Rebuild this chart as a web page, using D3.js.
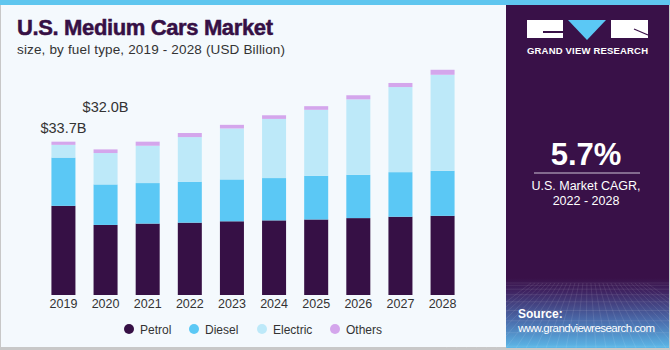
<!DOCTYPE html>
<html>
<head>
<meta charset="utf-8">
<script src="https://cdn.jsdelivr.net/npm/d3@7"></script>
<style>
  body { margin: 0; background: #fff; }
  svg { display: block; }
</style>
</head>
<body>
<div id="chart"></div>
<script>
// data (USD Billion)
var years = ["2019", "2020", "2021", "2022", "2023", "2024", "2025", "2026", "2027", "2028"];
var petrol   = [19.6, 15.4, 15.7, 15.9, 16.2, 16.4, 16.6, 16.9, 17.2, 17.4];
var diesel   = [10.6, 8.9, 8.9, 9.0, 9.2, 9.3, 9.6, 9.5, 9.8, 9.9];
var electric = [2.8, 6.9, 8.2, 9.8, 11.2, 13.0, 14.5, 16.6, 18.7, 21.1];
var others   = [0.7, 0.8, 0.9, 0.9, 0.8, 0.8, 0.8, 0.9, 0.9, 1.1];
var seriesNames = ["Petrol", "Diesel", "Electric", "Others"];
var colors = ["#361045", "#5bc8f5", "#bde9f9", "#d4a6ec"];
var totalLabels = [{year: "2019", text: "$33.7B", dy: -9}, {year: "2020", text: "$32.0B", dy: -37}];

var W = 670, H = 350;
var font = "'Liberation Sans', Arial, sans-serif";

var svg = d3.select("#chart").append("svg")
    .attr("width", W)
    .attr("height", H);

// backgrounds
svg.append("rect").attr("x", 0).attr("y", 0).attr("width", W).attr("height", H).attr("fill", "#c8c8c8");
svg.append("rect").attr("x", 1).attr("y", 0).attr("width", W - 2).attr("height", H - 3).attr("fill", "#f4f9fd");
svg.append("rect").attr("x", 0).attr("y", 0).attr("width", W).attr("height", 5).attr("fill", "#5fc6ef");

// title
svg.append("text").attr("x", 17).attr("y", 35)
    .attr("font-family", font)
    .attr("font-weight", "900").attr("font-size", 22)
    .attr("fill", "#361045")
    .attr("stroke", "#361045").attr("stroke-width", 0.5)
    .attr("textLength", 256)
    .text("U.S. Medium Cars Market");
svg.append("text").attr("x", 17).attr("y", 54)
    .attr("font-family", font).attr("font-size", 13.5)
    .attr("fill", "#333")
    .attr("textLength", 268)
    .text("size, by fuel type, 2019 - 2028 (USD Billion)");

// stacked bars
var rows = years.map(function(y, i) {
    return {year: y, Petrol: petrol[i], Diesel: diesel[i], Electric: electric[i], Others: others[i]};
});
var stacked = d3.stack().keys(seriesNames)(rows);

var x = d3.scaleBand()
    .domain(years)
    .range([43, 463])
    .paddingInner(0.43)
    .paddingOuter(0.2);

var y = d3.scaleLinear()
    .domain([0, 50])
    .range([295, 295 - 50 * 4.55]);

var g = svg.append("g");
g.selectAll("g.layer")
    .data(stacked)
    .enter()
    .append("g")
    .attr("class", "layer")
    .attr("fill", function(d, i) { return colors[i]; })
    .selectAll("rect")
    .data(function(d) { return d; })
    .enter()
    .append("rect")
    .attr("x", function(d) { return x(d.data.year); })
    .attr("y", function(d) { return y(d[1]); })
    .attr("width", x.bandwidth())
    .attr("height", function(d) { return y(d[0]) - y(d[1]); });

// x axis
var xAxis = d3.axisBottom(x).tickSize(0).tickPadding(4);
var ax = svg.append("g")
    .attr("transform", "translate(0,295)")
    .call(xAxis);
ax.select(".domain").remove();
ax.selectAll("text")
    .attr("font-family", font)
    .attr("font-size", 12.5)
    .attr("fill", "#333");

// total labels
svg.selectAll("text.total")
    .data(totalLabels)
    .enter()
    .append("text")
    .attr("class", "total")
    .attr("x", function(d) { return x(d.year) + x.bandwidth() / 2; })
    .attr("y", function(d) {
        var i = years.indexOf(d.year);
        return y(petrol[i] + diesel[i] + electric[i] + others[i]) + d.dy;
    })
    .attr("text-anchor", "middle")
    .attr("font-family", font)
    .attr("font-size", 14.5)
    .attr("fill", "#333")
    .text(function(d) { return d.text; });

// legend
var legendX = [129, 194, 262, 335];
var lg = svg.selectAll("g.legend")
    .data(seriesNames)
    .enter()
    .append("g")
    .attr("class", "legend")
    .attr("transform", function(d, i) { return "translate(" + legendX[i] + ",329)"; });
lg.append("circle").attr("r", 5).attr("fill", function(d, i) { return colors[i]; });
lg.append("text").attr("x", 11).attr("y", 4.5)
    .attr("font-family", font).attr("font-size", 12)
    .attr("fill", "#333")
    .text(function(d) { return d; });

// right panel
var px = 506, pw = 163;
var defs = svg.append("defs");
var grad = defs.append("linearGradient").attr("id", "srcGrad")
    .attr("x1", 0).attr("y1", 0).attr("x2", 0).attr("y2", 1);
grad.append("stop").attr("offset", "0%").attr("stop-color", "#391148");
grad.append("stop").attr("offset", "20%").attr("stop-color", "#3f2462");
grad.append("stop").attr("offset", "60%").attr("stop-color", "#4a6aaa");
grad.append("stop").attr("offset", "100%").attr("stop-color", "#5cb8e8");

svg.append("rect").attr("x", px).attr("y", 5).attr("width", pw).attr("height", 343).attr("fill", "#391148");
svg.append("rect").attr("x", px).attr("y", 278).attr("width", pw).attr("height", 70).attr("fill", "url(#srcGrad)");

// grid texture in source area
var grid = svg.append("g").attr("stroke", "#ffffff").attr("stroke-opacity", 0.13).attr("stroke-width", 0.7);
d3.range(0, 30).forEach(function(k) {
    var xx = px - 60 + k * 10;
    grid.append("line").attr("x1", px + pw / 2 + (xx - px - pw / 2) * 0.4).attr("y1", 283)
        .attr("x2", xx).attr("y2", 348);
});
d3.range(0, 10).forEach(function(k) {
    var yy = 283 + k * k * 0.8 + k * 1.5;
    if (yy < 348) grid.append("line").attr("x1", px).attr("y1", yy).attr("x2", px + pw).attr("y2", yy);
});

// logo
var logo = svg.append("g");
logo.append("rect").attr("x", 527).attr("y", 20).attr("width", 36).attr("height", 18).attr("fill", "#fff");
logo.append("path").attr("d", "M543,33 L543,31 L563,31 L563,33 Z").attr("fill", "#391148");
logo.append("path").attr("d", "M568,20 L606,20 L587,40 Z").attr("fill", "#5bc8f5");
logo.append("rect").attr("x", 611).attr("y", 20).attr("width", 37).attr("height", 18).attr("fill", "#fff");
logo.append("line").attr("x1", 634).attr("y1", 29).attr("x2", 648).attr("y2", 35)
    .attr("stroke", "#391148").attr("stroke-width", 1.2);
svg.append("text").attr("x", 587.5).attr("y", 54)
    .attr("text-anchor", "middle")
    .attr("font-family", font).attr("font-weight", "bold").attr("font-size", 9.5)
    .attr("fill", "#fff")
    .attr("textLength", 121)
    .text("GRAND VIEW RESEARCH");

// CAGR
svg.append("text").attr("x", 586).attr("y", 165)
    .attr("text-anchor", "middle")
    .attr("font-family", font).attr("font-weight", "bold").attr("font-size", 31)
    .attr("fill", "#fff")
    .text("5.7%");
svg.append("line").attr("x1", 534).attr("x2", 640).attr("y1", 173).attr("y2", 173)
    .attr("stroke", "#cfc4d6").attr("stroke-width", 1);
svg.append("text").attr("x", 586).attr("y", 190)
    .attr("text-anchor", "middle")
    .attr("font-family", font).attr("font-size", 12.5)
    .attr("fill", "#fff")
    .text("U.S. Market CAGR,");
svg.append("text").attr("x", 586).attr("y", 205)
    .attr("text-anchor", "middle")
    .attr("font-family", font).attr("font-size", 12.5)
    .attr("fill", "#fff")
    .text("2022 - 2028");

// source
svg.append("text").attr("x", 518).attr("y", 318)
    .attr("font-family", font).attr("font-weight", "bold").attr("font-size", 12)
    .attr("fill", "#fff")
    .text("Source:");
svg.append("text").attr("x", 518).attr("y", 332)
    .attr("font-family", font).attr("font-size", 11.5)
    .attr("fill", "#fff")
    .attr("textLength", 137)
    .text("www.grandviewresearch.com");
</script>
</body>
</html>
